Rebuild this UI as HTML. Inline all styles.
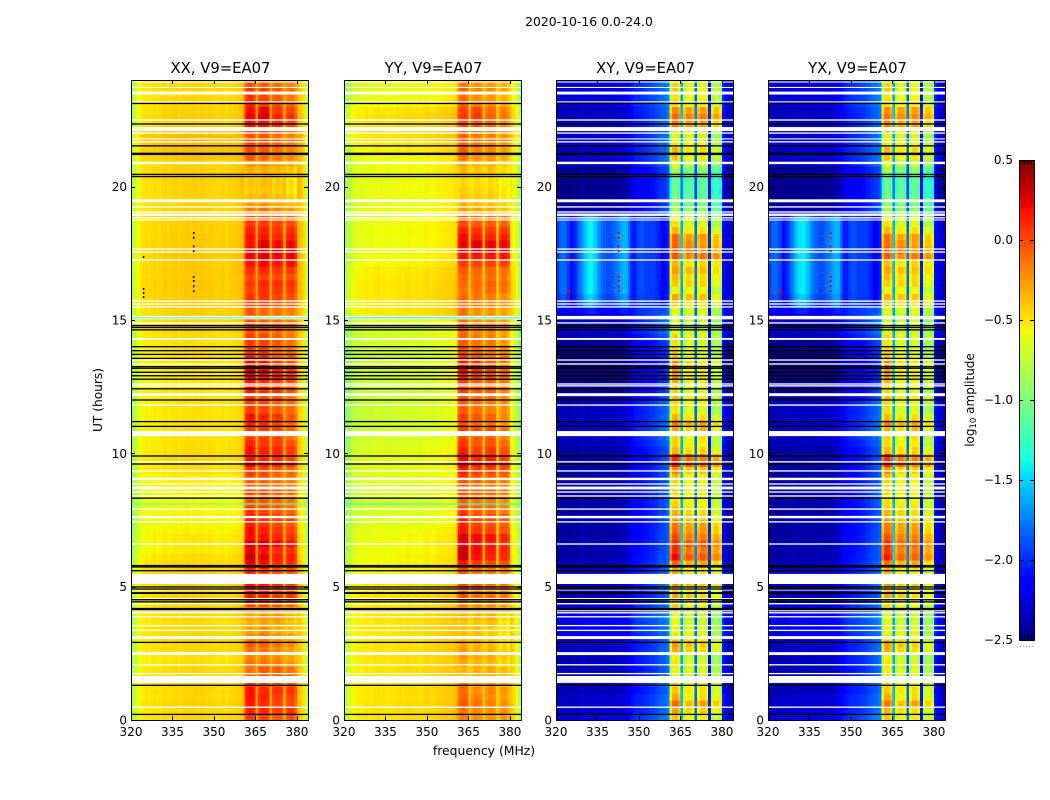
<!DOCTYPE html>
<html lang="en">
<head>
<meta charset="utf-8">
<title>2020-10-16 0.0-24.0</title>
<style>
  html, body { margin: 0; padding: 0; background: #fff; }
  svg { display: block; font-family: "DejaVu Sans", "Liberation Sans", sans-serif; fill: #000; }
</style>
</head>
<body>
<svg id="figure" xmlns="http://www.w3.org/2000/svg" width="1050" height="800" viewBox="0 0 1050 800">
  <text x="589" y="26" font-size="12.4" text-anchor="middle">2020-10-16 0.0-24.0</text>
  <text x="0" y="0" font-size="12.2" text-anchor="middle" transform="translate(102 400) rotate(-90)">UT (hours)</text>
  <text x="484" y="755" font-size="12.4" text-anchor="middle">frequency (MHz)</text>
  <text x="0" y="0" font-size="12" text-anchor="middle" transform="translate(974 400) rotate(-90)">log<tspan font-size="8.5" dy="2">10</tspan><tspan dy="-2"> amplitude</tspan></text>
</svg>
<script>
/* ---------- categories and tick labels ---------- */
const panelTitles = ['XX, V9=EA07', 'YY, V9=EA07', 'XY, V9=EA07', 'YX, V9=EA07'];
const freqTicks = [320, 335, 350, 365, 380];
const utTicks = [0, 5, 10, 15, 20];
const colorbarTicks = [0.5, 0, -0.5, -1, -1.5, -2, -2.5];
const colorbarLabels = ['0.5', '0.0', '\u22120.5', '\u22121.0', '\u22121.5', '\u22122.0', '\u22122.5'];

/* ---------- spectral profiles: log10 amplitude per 1 MHz channel, 320..383 ---------- */
const xxProfile = [-.85,-.72,-.62,-.55,-.52,-.5,-.52,-.5,-.48,-.5,-.5,-.47,-.46,-.49,-.47,-.46,-.45,-.48,-.46,-.45,-.44,-.46,-.45,-.44,-.46,-.44,-.45,-.47,-.45,-.46,-.47,-.48,-.47,-.46,-.48,-.47,-.46,-.45,-.44,-.43,-.38,-.2,-.12,-.1,-.15,-.32,-.15,-.08,-.08,-.12,-.3,-.18,-.12,-.12,-.18,-.3,-.2,-.15,-.15,-.25,-.36,-.42,-.5,-.72];
const yyProfile = [-.82,-.74,-.66,-.6,-.57,-.55,-.56,-.54,-.53,-.55,-.54,-.52,-.51,-.53,-.52,-.54,-.53,-.52,-.53,-.51,-.5,-.52,-.5,-.49,-.51,-.5,-.5,-.52,-.5,-.48,-.47,-.5,-.49,-.47,-.46,-.46,-.45,-.44,-.44,-.43,-.4,-.22,-.15,-.13,-.18,-.4,-.22,-.16,-.16,-.2,-.4,-.22,-.16,-.16,-.2,-.4,-.28,-.2,-.2,-.3,-.42,-.5,-.6,-.78];
const xyQuiet = [-2.42,-2.38,-2.36,-2.38,-2.4,-2.38,-2.36,-2.38,-2.36,-2.34,-2.36,-2.38,-2.36,-2.34,-2.36,-2.35,-2.36,-2.34,-2.35,-2.36,-2.34,-2.35,-2.34,-2.32,-2.32,-2.3,-2.25,-2.15,-2.1,-2.08,-2.08,-2.06,-2.04,-2.02,-2,-1.98,-1.95,-1.9,-1.88,-1.88,-1.8,-.85,-.55,-.5,-.65,-1.65,-.75,-.6,-.6,-.7,-1.85,-.75,-.6,-.6,-.7,-2.1,-.85,-.7,-.7,-.85,-2.1,-2.28,-2.3,-2.36];
const xyActive = [-1.95,-1.85,-1.8,-1.85,-1.95,-2.1,-2.05,-1.95,-1.8,-1.7,-1.55,-1.45,-1.4,-1.45,-1.55,-1.7,-1.8,-1.85,-1.9,-1.9,-1.85,-1.8,-1.75,-1.65,-1.6,-1.6,-1.8,-2.05,-2.05,-1.95,-1.9,-1.9,-1.95,-1.95,-1.95,-1.95,-2,-2.05,-2.15,-2.15,-2.05,-.85,-.55,-.5,-.65,-1.65,-.75,-.6,-.6,-.7,-1.85,-.75,-.6,-.6,-.7,-2.1,-.85,-.7,-.7,-.85,-2.1,-2.25,-2.25,-2.3];
const yxQuiet = [-2.4,-2.38,-2.38,-2.36,-2.38,-2.36,-2.36,-2.38,-2.34,-2.34,-2.36,-2.36,-2.36,-2.34,-2.36,-2.34,-2.36,-2.34,-2.34,-2.36,-2.34,-2.34,-2.34,-2.32,-2.3,-2.28,-2.22,-2.14,-2.1,-2.08,-2.06,-2.06,-2.04,-2.02,-2,-1.98,-1.94,-1.9,-1.88,-1.86,-1.8,-.85,-.55,-.52,-.65,-1.65,-.75,-.6,-.6,-.7,-1.85,-.75,-.6,-.6,-.7,-2.1,-.85,-.7,-.7,-.85,-2.1,-2.28,-2.3,-2.36];
const yxActive = [-1.95,-1.85,-1.82,-1.85,-1.95,-2.1,-2.05,-1.95,-1.8,-1.68,-1.52,-1.45,-1.42,-1.45,-1.55,-1.7,-1.8,-1.85,-1.9,-1.9,-1.85,-1.8,-1.75,-1.65,-1.6,-1.62,-1.8,-2.05,-2.05,-1.95,-1.9,-1.9,-1.95,-1.95,-1.95,-1.95,-2,-2.05,-2.15,-2.15,-2.05,-.85,-.55,-.52,-.65,-1.65,-.75,-.6,-.6,-.7,-1.85,-.75,-.6,-.6,-.7,-2.1,-.85,-.7,-.7,-.85,-2.1,-2.25,-2.25,-2.3];

/* ---------- time series: log10 offset per 0.25 h, UT 0 upward (four values per hour) ---------- */
const xxBand = [.12,.2,.15,.18, .2,.1,.12,.1, 0,-.05,-.02,.05, -.05,-.12,-.15,-.12, -.12,.15,.2,.18, .2,.25,.15,.25, .28,.22,.3,.2, .22,.15,.2,.12, .1,.08,.12,.05, .1,.12,.25,.2, .22,.15,.1,.1, .15,.2,.12,.1, .1,.18,.15,.25, .3,.2,.15,.08, .12,.1,.05,.08, 0,.02,.1,.15, .15,.18,.12,.2, .25,.3,.28,.25, .25,.2,.18,.1, -.02,-.12,-.2,-.25, -.22,-.25,-.2,-.12, 0,.05,.08,.02, .1,.25,.28,.22, .15,.1,.12,.05];
const xxOuter = [0,0,.02,0, .01,0,0,0, -.02,-.03,0,0, 0,0,-.01,0, 0,.01,.02,0, .02,.02,.03,0, -.02,-.05,-.06,-.05, -.08,-.1,-.08,-.1, -.1,-.12,-.1,-.08, -.06,-.02,-.01,0, -.01,-.02,-.03,-.03, -.03,-.04,-.03,-.03, -.04,-.04,-.05,-.04, -.04,-.03,-.03,-.03, -.02,-.01,0,0, .02,.03,.04,.04, .05,.05,.04,.05, .04,.05,.05,.04, .04,.03,.03,.02, .02,.02,.01,.02, .02,.03,.03,.02, .06,.08,.1,.08, .05,.02,.03,.02, .02,0,.01,0];
const yyBand = [-.05,-.02,0,-.05, -.05,-.1,-.1,-.1, -.15,-.1,-.12,-.15, -.2,-.2,-.2,-.15, -.15,0,.05,.05, .05,.1,.05,.2, .3,.32,.28,.3, .22,.18,.2,.12, .08,.1,.12,.1, .18,.25,.3,.28, .2,.12,.08,.1, .05,.1,.05,.05, .05,.1,.08,.15, .2,.15,.1,.05, .05,.02,0,0, -.05,-.05,0,0, .02,.05,.05,.08, .15,.28,.3,.32, .3,.22,.15,.1, -.1,-.15,-.2,-.22, -.25,-.25,-.2,-.15, -.05,0,.02,0, .02,.1,.12,.1, 0,-.05,0,-.05];
const yyOuter = [.03,.03,.04,.03, .03,.02,.03,.03, .02,.03,.03,.02, .02,.03,.02,.03, .02,.02,.03,.02, .02,0,-.02,-.04, -.04,-.06,-.05,-.06, -.08,-.12,-.13,-.14, -.14,-.15,-.14,-.13, -.13,-.12,-.1,-.1, -.12,-.14,-.16,-.17, -.17,-.18,-.18,-.18, -.18,-.19,-.18,-.17, -.18,-.18,-.19,-.18, -.17,-.17,-.16,-.14, -.02,.02,.02,.02, .02,.02,.01,0, -.04,-.06,-.06,-.07, -.07,-.06,-.07,-.08, -.08,-.09,-.08,-.08, -.08,-.08,-.07,-.06, -.06,-.02,.02,.03, .03,.03,.04,.02, -.05,-.08,-.1,-.1];
const xyBand = [.05,.15,.3,.1, .1,.05,0,0, 0,-.05,.15,.2, .05,0,-.05,-.05, 0,.1,.15,.1, .2,.15,.1,.3, .55,.45,.5,.4, .35,.3,.2,.15, .1,.05,.1,.05, .1,.25,.5,.45, .15,.05,.05,.2, .3,.1,0,.05, .1,0,.05,.15, .1,.15,.05,0, 0,.05,-.05,-.05, -.05,0,.1,.2, 0,.15,.1,.2, .1,.4,.35,.3, .35,.1,0,-.05, -.2,-.3,-.35,-.4, -.4,-.45,-.3,-.1, .05,.1,0,-.1, .05,.3,.35,.25, .05,0,.05,0];
const xyOuter = [.1,.05,.05,.05, 0,.05,0,0, .02,.02,.04,.02, .05,.08,.1,.12, .05,.05,0,0, .05,.05,0,0, -.02,-.03,-.03,-.04, -.05,-.05,-.04,-.05, -.03,-.04,-.03,-.03, -.05,-.05,-.04,-.06, -.05,0,.05,.05, .03,.03,.02,.03, -.08,-.1,-.12,-.15, -.15,-.16,-.15,-.14, -.1,0,.05,.05, .05,.05,0,0, 0,0,0,0, 0,0,0,0, 0,0,0,0, -.05,-.1,-.1,-.1, -.1,-.1,-.08,0, .05,.05,.04,.05, .03,.03,.02,.03, .08,.08,.07,.08];
const xyMix = [0,0,0,0, 0,0,0,0, 0,0,0,0, .1,.1,.1,.1, .1,.1,.05,0, 0,0,0,0, 0,0,0,0, 0,0,0,0, 0,0,0,0, 0,0,0,0, 0,0,0,0, 0,0,0,0, 0,0,0,0, 0,0,0,0, 0,0,0,0, 0,.3,.8,.9, 1,1,1,1, 1,1,1,1, 1,1,1,.8, 0,0,0,0, 0,0,0,0, 0,0,0,0, 0,0,0,0, 0,0,0,0];
const yxBand = [.05,.12,.28,.1, .1,.05,0,0, 0,-.04,.14,.18, .05,0,-.05,-.05, 0,.08,.15,.1, .18,.15,.1,.28, .5,.42,.46,.38, .32,.28,.2,.15, .1,.05,.1,.05, .1,.22,.46,.42, .15,.05,.05,.18, .28,.1,0,.05, .1,0,.05,.14, .1,.14,.05,0, 0,.05,-.05,-.05, -.05,0,.1,.18, 0,.14,.1,.18, .1,.38,.34,.28, .32,.1,0,-.05, -.2,-.28,-.34,-.4, -.4,-.44,-.3,-.1, .05,.1,0,-.1, .05,.28,.32,.24, .05,0,.05,0];
const yxOuter = [.1,.05,.05,.05, 0,.04,0,0, .02,.02,.04,.02, .05,.08,.1,.12, .05,.05,0,0, .05,.04,0,0, -.02,-.03,-.03,-.04, -.05,-.05,-.04,-.05, -.03,-.04,-.03,-.03, -.05,-.05,-.04,-.06, -.05,0,.05,.05, .03,.03,.02,.03, -.08,-.1,-.12,-.15, -.15,-.16,-.15,-.14, -.1,0,.05,.05, .05,.05,0,0, 0,0,0,0, 0,0,0,0, 0,0,0,0, -.05,-.1,-.1,-.1, -.1,-.1,-.08,0, .05,.05,.04,.05, .03,.03,.02,.03, .08,.08,.07,.08];
const yxMix = [0,0,0,0, 0,0,0,0, 0,0,0,0, .1,.1,.1,.1, .1,.1,.05,0, 0,0,0,0, 0,0,0,0, 0,0,0,0, 0,0,0,0, 0,0,0,0, 0,0,0,0, 0,0,0,0, 0,0,0,0, 0,0,0,0, 0,0,0,0, 0,.3,.8,.9, 1,1,1,1, 1,1,1,1, 1,1,1,.8, 0,0,0,0, 0,0,0,0, 0,0,0,0, 0,0,0,0, 0,0,0,0];

/* ---------- sub-band offsets per 0.5 h, UT 0 upward (two values per hour) ---------- */
const parallelSub1 = [.05,.12, .1,-.1, 0,.02, -.02,-.05, 0,.08, .1,.12, .15,.12, .1,.08, 0,.02, .05,.1, .1,.08, .1,.05, .1,.12, .15,.1, .05,.05, .08,.05, 0,.02, .05,.05, .05,0, -.02,-.05, -.05,0, .08,.08, .05,.08, .1,.05];
const parallelSub2 = [0,.05, 0,-.05, -.03,-.02, 0,-.03, -.02,.02, .05,.02, .05,.08, .02,0, -.05,-.02, -.02,0, 0,.05, .03,0, 0,.02, .08,.05, 0,-.03, -.02,.03, .03,0, .05,.1, .02,-.03, -.03,-.05, -.05,-.03, 0,.03, .03,.1, 0,-.02];
const parallelSub3 = [-.02,0, .03,-.03, -.03,-.05, -.05,0, -.03,0, .02,-.02, 0,.05, -.02,-.03, -.05,-.03, -.05,.02, .03,.05, 0,-.05, .03,.02, -.02,-.05, -.03,-.02, -.02,0, .05,0, .05,.08, 0,-.03, -.05,-.05, -.05,-.02, -.02,0, -.02,-.03, -.03,-.05];
const parallelSub4 = [.02,0, .02,-.05, -.08,-.1, -.08,-.08, -.05,.03, 0,0, .02,.03, -.03,-.05, -.08,-.05, -.05,-.03, 0,-.03, -.08,-.05, -.05,-.03, -.08,-.05, -.08,-.05, -.03,0, .05,.02, .1,.12, .05,-.02, -.08,-.08, -.08,-.05, -.05,-.03, -.08,-.05, -.08,-.08];
const crossSub1 = [.1,.15, .05,0, .05,.1, 0,0, .05,.1, .1,.15, .2,.15, .1,.05, 0,.05, .1,.2, .05,.05, .1,.05, .1,.15, .2,.1, .05,0, -.05,.05, -.02,.08, .1,.15, .1,.05, -.05,-.1, -.1,.05, .1,.05, .1,.1, .05,.1];
const crossSub2 = [0,-.05, 0,-.05, -.05,.03, 0,-.05, -.03,.05, .03,0, .02,.05, .02,0, -.03,0, -.05,.05, 0,-.05, 0,-.03, 0,-.03, 0,0, -.03,-.05, -.05,.03, .03,.05, 0,.12, 0,-.05, -.1,-.1, -.1,-.05, 0,.05, .05,.08, 0,-.03];
const crossSub3 = [.03,.05, .03,-.03, -.05,0, 0,-.03, -.02,0, 0,.03, .03,.05, .03,-.02, -.03,0, -.03,0, .03,.08, .05,-.02, 0,0, -.03,-.03, -.05,-.03, 0,.03, .02,.05, .08,.05, .03,-.02, -.08,-.1, -.05,0, .05,.03, .05,.1, .05,0];
const crossSub4 = [-.05,0, -.05,-.08, -.1,-.08, -.1,-.1, -.08,-.02, -.03,-.05, -.02,0, -.05,-.08, -.08,-.08, -.05,-.03, -.08,-.1, -.05,-.1, -.1,-.08, -.08,-.1, -.1,-.1, -.08,-.05, -.03,.05, .1,.05, -.03,-.08, -.12,-.15, -.12,-.08, -.05,-.03, -.03,.08, -.03,-.08];

/* ---------- channels between sub-bands ---------- */
const gapChannels = [365, 370, 375];

/* ---------- flagged integrations ---------- */
const whiteFlagUT = [23.925,23.72,23.51,23.18,22.5,22.16,22.01,21.79,21.68,20.89,19.47,19.24,19.05,18.95,18.83,18.75,17.66,17.55,17.25,15.71,15.6,15.49,15.09,14.89,14.29,13.5,13.35,12.6,12.53,12.2,11.81,10.74,9.68,9.34,9.04,8.85,8.7,8.55,8.4,7.91,7.61,7.43,6.6,5.29,4.88,4.55,4.36,4.1,4.02,3.87,3.54,3.36,3.09,2.49,2.07,1.74,1.52,.48];
const whiteFlagHours = [.04,.04,.11,.04,.05,.15,.05,.04,.05,.09,.11,.05,.05,.09,.05,.04,.05,.05,.05,.05,.05,.05,.13,.05,.07,.05,.05,.05,.05,.11,.05,.19,.05,.05,.09,.05,.11,.05,.05,.05,.09,.05,.05,.38,.05,.05,.05,.05,.05,.05,.05,.05,.11,.11,.05,.05,.26,.05];
const blackFlagUT = [23.12,22.35,21.53,21.23,20.46,20.38,14.79,14.72,14.63,14,13.85,13.71,13.56,13.25,13.19,13.04,12.91,12.78,12.42,12,11.19,11.01,9.9,9.6,8.32,5.79,5.74,5.6,4.99,4.91,4.76,4.51,4.43,4.16,2.91,1.3,.21];
const blackFlagHours = [.05,.05,.05,.09,.05,.05,.05,.05,.05,.05,.05,.05,.05,.05,.05,.05,.05,.05,.05,.05,.05,.05,.05,.05,.05,.05,.05,.05,.05,.05,.07,.05,.05,.09,.05,.05,.05];
const cyanRowUT = [15.08, 8.1];

/* ---------- isolated outlier samples ---------- */
const speckFreq = [342.4,342.4,342.4,342.4,342.4,342.4,342.4,342.4,324.3,324.3,324.3,324.3];
const speckUT = [18.3,18.12,17.8,17.62,16.65,16.5,16.3,16.12,16.2,16.05,15.9,17.4];

/* ---------- axes ---------- */
const svg = document.getElementById('figure');
const NS = 'http://www.w3.org/2000/svg';
const panelLefts = [131, 344, 556, 768];
const panelWidth = 177;
const plotTop = 80;
const plotBottom = 720;
const freqMin = 320;
const freqMax = 384;
const utMax = 24;
const vMin = -2.5;
const vMax = 0.5;
const bandLow = 361;
const bandHigh = 380;
const subbandWidth = 5;
const gapResponse = 0.25;
const cbLeft = 1019;
const cbWidth = 15;
const cbTop = 160;
const cbBottom = 640;

function xScale(freq, left) { return left + (freq - freqMin) * panelWidth / (freqMax - freqMin); }
function yScale(ut) { return plotBottom - ut * (plotBottom - plotTop) / utMax; }
function cbScale(v) { return cbBottom - (v - vMin) * (cbBottom - cbTop) / (vMax - vMin); }
function interp(stops, t) {
  for (let i = 1; i < stops.length; i++) {
    if (t <= stops[i][0]) {
      const a = stops[i - 1], b = stops[i];
      return a[1] + (b[1] - a[1]) * (t - a[0]) / (b[0] - a[0]);
    }
  }
  return stops[stops.length - 1][1];
}
const jetR = [[0,0],[.35,0],[.66,1],[.89,1],[1,.5]];
const jetG = [[0,0],[.125,0],[.375,1],[.64,1],[.91,0],[1,0]];
const jetB = [[0,.5],[.11,1],[.34,1],[.65,0],[1,0]];
function jet(v) {
  const t = Math.max(0, Math.min(1, (v - vMin) / (vMax - vMin)));
  return 'rgb(' + Math.round(255 * interp(jetR, t)) + ',' + Math.round(255 * interp(jetG, t)) + ',' + Math.round(255 * interp(jetB, t)) + ')';
}
function rect(parent, x, y, w, h, fill) {
  const r = document.createElementNS(NS, 'rect');
  r.setAttribute('x', x);
  r.setAttribute('y', y);
  r.setAttribute('width', w);
  r.setAttribute('height', h);
  r.setAttribute('fill', fill);
  parent.appendChild(r);
  return r;
}
function line(parent, x1, y1, x2, y2) {
  const l = document.createElementNS(NS, 'line');
  l.setAttribute('x1', x1);
  l.setAttribute('y1', y1);
  l.setAttribute('x2', x2);
  l.setAttribute('y2', y2);
  l.setAttribute('stroke', '#000');
  l.setAttribute('stroke-width', '1');
  l.setAttribute('shape-rendering', 'crispEdges');
  parent.appendChild(l);
  return l;
}
function label(parent, x, y, str, size, anchor) {
  const t = document.createElementNS(NS, 'text');
  t.setAttribute('x', x);
  t.setAttribute('y', y);
  t.setAttribute('font-size', size);
  t.setAttribute('text-anchor', anchor);
  t.textContent = str;
  parent.appendChild(t);
  return t;
}

const parallelSubs = [parallelSub1, parallelSub2, parallelSub3, parallelSub4];
const crossSubs = [crossSub1, crossSub2, crossSub3, crossSub4];
const panelModels = [
  { key: 'xx', quiet: xxProfile, active: xxProfile, mix: null, band: xxBand, outer: xxOuter, subs: parallelSubs, speck: '#000', cyan: '#66ffaa' },
  { key: 'yy', quiet: yyProfile, active: yyProfile, mix: null, band: yyBand, outer: yyOuter, subs: parallelSubs, speck: null, cyan: '#33ffdd' },
  { key: 'xy', quiet: xyQuiet, active: xyActive, mix: xyMix, band: xyBand, outer: xyOuter, subs: crossSubs, speck: '#d00000', cyan: null },
  { key: 'yx', quiet: yxQuiet, active: yxActive, mix: yxMix, band: yxBand, outer: yxOuter, subs: crossSubs, speck: '#d00000', cyan: null }
];

panelModels.forEach(function (model, p) {
  const left = panelLefts[p];
  const g = document.createElementNS(NS, 'g');
  
  
  svg.appendChild(g);

  const cells = document.createElementNS(NS, 'g');
  
  
  cells.setAttribute('shape-rendering', 'crispEdges');
  g.appendChild(cells);

  const rowCount = model.band.length;
  const colCount = model.quiet.length;
  for (let row = 0; row < rowCount; row++) {
    const mix = model.mix ? model.mix[row] : 0;
    const y0 = yScale(row * utMax / rowCount);
    const y1 = yScale((row + 1) * utMax / rowCount);
    for (let col = 0; col < colCount; col++) {
      const f = freqMin + col * (freqMax - freqMin) / colCount;
      const base = model.quiet[col] + (model.active[col] - model.quiet[col]) * mix;
      const isBand = f >= bandLow && f < bandHigh;
      let value = base;
      if (isBand) {
        const sub = model.subs[Math.min(3, Math.floor((f - bandLow) / subbandWidth))];
        const gain = model.band[row] + sub[Math.floor(row * sub.length / rowCount)];
        value += gapChannels.indexOf(f) >= 0 ? gain * gapResponse : gain;
      } else {
        value += model.outer[row];
      }
      const x0 = xScale(f, left);
      const x1 = xScale(f + (freqMax - freqMin) / colCount, left);
      const cell = rect(cells, x0, y1, x1 - x0 + 0.5, y0 - y1 + 0.5, jet(value));
      
      
    }
  }

  whiteFlagUT.forEach(function (ut, i) {
    const h = whiteFlagHours[i];
    const bar = rect(g, left, yScale(ut + h / 2), panelWidth, yScale(ut - h / 2) - yScale(ut + h / 2), '#fff');
    
    
  });
  blackFlagUT.forEach(function (ut, i) {
    const h = blackFlagHours[i];
    const bar = rect(g, left, yScale(ut + h / 2), panelWidth, yScale(ut - h / 2) - yScale(ut + h / 2), '#000');
    
    
  });
  if (model.cyan) {
    cyanRowUT.forEach(function (ut) {
      const bar = rect(g, left, yScale(ut) - 0.6, panelWidth, 1.2, model.cyan);
      
      
    });
  }
  if (model.speck) {
    speckFreq.forEach(function (f, i) {
      const dot = rect(g, xScale(f, left), yScale(speckUT[i]), 1.5, 2, model.speck);
      
      
    });
  }

  const frame = rect(g, left + 0.5, plotTop + 0.5, panelWidth, plotBottom - plotTop, 'none');
  frame.setAttribute('stroke', '#000');
  frame.setAttribute('stroke-width', '1');
  frame.setAttribute('shape-rendering', 'crispEdges');
  
  

  const title = label(g, left + panelWidth / 2 + 1, 73, panelTitles[p], 14.8, 'middle');
  
  

  freqTicks.forEach(function (f) {
    const x = Math.round(xScale(f, left)) + 0.5;
    const tickB = line(g, x, plotBottom, x, plotBottom - 4);
    
    
    const tickT = line(g, x, plotTop, x, plotTop + 4);
    
    
    const tl = label(g, xScale(f, left), 736, String(f), 12, 'middle');
    
    
  });
  utTicks.forEach(function (ut) {
    const y = Math.round(yScale(ut)) + 0.5;
    const tickL = line(g, left, y, left + 4, y);
    
    
    const tickR = line(g, left + panelWidth, y, left + panelWidth - 4, y);
    
    
    const tl = label(g, left - 4, yScale(ut) + 4.5, String(ut), 12, 'end');
    
    
  });
});

/* ---------- colorbar ---------- */
const cb = document.createElementNS(NS, 'g');


cb.setAttribute('shape-rendering', 'crispEdges');
svg.appendChild(cb);
for (let py = cbTop; py < cbBottom; py += 2) {
  const swatch = rect(cb, cbLeft, py, cbWidth, 2.5, jet(vMax - (py - cbTop + 1) * (vMax - vMin) / (cbBottom - cbTop)));
  
  
}
const cbFrame = rect(cb, cbLeft + 0.5, cbTop + 0.5, cbWidth, cbBottom - cbTop, 'none');
cbFrame.setAttribute('stroke', '#000');


colorbarTicks.forEach(function (v, i) {
  const y = Math.round(cbScale(v)) + 0.5;
  const t1 = line(cb, cbLeft, y, cbLeft + 4, y);
  
  
  const t2 = line(cb, cbLeft + cbWidth, y, cbLeft + cbWidth - 4, y);
  
  
  const tl = label(cb, cbLeft - 6, cbScale(v) + 4, colorbarLabels[i], 12, 'end');
  
  
  tl.setAttribute('shape-rendering', 'auto');
});
for (let k = 1; k < 5; k++) {
  const mx = cbLeft + k * cbWidth / 5;
  const mt = line(cb, mx, cbTop, mx, cbTop + 5);
  
  
  const mb = line(cb, mx, cbBottom, mx, cbBottom - 5);
  
  
}
const dots = document.createElementNS(NS, 'line');
dots.setAttribute('x1', 1017);
dots.setAttribute('y1', 646.5);
dots.setAttribute('x2', 1035);
dots.setAttribute('y2', 646.5);
dots.setAttribute('stroke', '#999');
dots.setAttribute('stroke-dasharray', '1 2');


cb.appendChild(dots);
</script>
</body>
</html>
